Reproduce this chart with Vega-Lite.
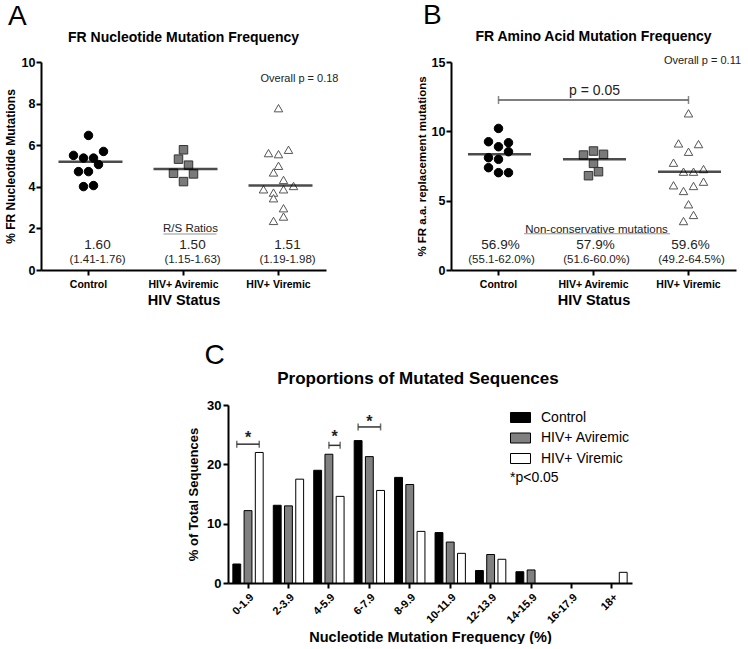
{
  "$schema": "https://vega.github.io/schema/vega-lite/v6.json",
  "background": "white",
  "padding": {"left": 4, "top": 2, "right": 0, "bottom": 0},
  "config": {
    "font": "Liberation Sans",
    "view": {"stroke": null},
    "axis": {"domainColor": "#000", "domainWidth": 2, "tickColor": "#000", "tickWidth": 2, "tickSize": 5, "labelColor": "#000", "titleColor": "#000", "labelFontWeight": "bold", "titleFontWeight": "bold", "grid": false, "labelFont": "Liberation Sans", "titleFont": "Liberation Sans"},
    "title": {"color": "#000", "font": "Liberation Sans"},
    "text": {"font": "Liberation Sans"},
    "legend": {"labelFont": "Liberation Sans", "titleFont": "Liberation Sans"}
  },
  "resolve": {"scale": {"color": "independent"}, "legend": {"color": "independent"}},
  "datasets": {
    "a_pts": [
      {"group": "Control", "value": 6.47, "slot": 0},
      {"group": "Control", "value": 5.51, "slot": -3},
      {"group": "Control", "value": 5.38, "slot": -1},
      {"group": "Control", "value": 5.38, "slot": 1},
      {"group": "Control", "value": 5.70, "slot": 3},
      {"group": "Control", "value": 5.07, "slot": 2},
      {"group": "Control", "value": 4.73, "slot": -2},
      {"group": "Control", "value": 4.73, "slot": 0},
      {"group": "Control", "value": 4.01, "slot": -1},
      {"group": "Control", "value": 4.06, "slot": 1},
      {"group": "HIV+ Aviremic", "value": 5.78, "slot": 0},
      {"group": "HIV+ Aviremic", "value": 5.33, "slot": -1},
      {"group": "HIV+ Aviremic", "value": 5.04, "slot": 1},
      {"group": "HIV+ Aviremic", "value": 4.65, "slot": -2},
      {"group": "HIV+ Aviremic", "value": 4.62, "slot": 2},
      {"group": "HIV+ Aviremic", "value": 4.25, "slot": 0},
      {"group": "HIV+ Viremic", "value": 7.78, "slot": 0},
      {"group": "HIV+ Viremic", "value": 5.62, "slot": -2},
      {"group": "HIV+ Viremic", "value": 5.57, "slot": 0},
      {"group": "HIV+ Viremic", "value": 5.78, "slot": 2},
      {"group": "HIV+ Viremic", "value": 5.01, "slot": 0},
      {"group": "HIV+ Viremic", "value": 4.69, "slot": -1},
      {"group": "HIV+ Viremic", "value": 4.33, "slot": 1},
      {"group": "HIV+ Viremic", "value": 3.88, "slot": -3},
      {"group": "HIV+ Viremic", "value": 3.72, "slot": -1},
      {"group": "HIV+ Viremic", "value": 3.88, "slot": 1},
      {"group": "HIV+ Viremic", "value": 4.04, "slot": 3},
      {"group": "HIV+ Viremic", "value": 3.45, "slot": -1},
      {"group": "HIV+ Viremic", "value": 2.97, "slot": 1},
      {"group": "HIV+ Viremic", "value": 2.57, "slot": 1},
      {"group": "HIV+ Viremic", "value": 2.36, "slot": -1}
    ],
    "a_med": [
      {"group": "Control", "median": 5.20},
      {"group": "HIV+ Aviremic", "median": 4.85},
      {"group": "HIV+ Viremic", "median": 4.06}
    ],
    "a_lab": [
      {"group": "Control", "r": "1.60", "ci": "(1.41-1.76)"},
      {"group": "HIV+ Aviremic", "r": "1.50", "ci": "(1.15-1.63)"},
      {"group": "HIV+ Viremic", "r": "1.51", "ci": "(1.19-1.98)"}
    ],
    "b_pts": [
      {"group": "Control", "value": 10.21, "slot": 0},
      {"group": "Control", "value": 9.25, "slot": -2},
      {"group": "Control", "value": 9.18, "slot": 2},
      {"group": "Control", "value": 8.89, "slot": 0},
      {"group": "Control", "value": 8.53, "slot": 2},
      {"group": "Control", "value": 8.10, "slot": -2},
      {"group": "Control", "value": 7.98, "slot": 0},
      {"group": "Control", "value": 7.38, "slot": -2},
      {"group": "Control", "value": 7.02, "slot": 0},
      {"group": "Control", "value": 7.02, "slot": 2},
      {"group": "HIV+ Aviremic", "value": 8.58, "slot": 0},
      {"group": "HIV+ Aviremic", "value": 8.29, "slot": -2},
      {"group": "HIV+ Aviremic", "value": 8.34, "slot": 2},
      {"group": "HIV+ Aviremic", "value": 7.69, "slot": 0},
      {"group": "HIV+ Aviremic", "value": 7.09, "slot": 1},
      {"group": "HIV+ Aviremic", "value": 6.80, "slot": -1},
      {"group": "HIV+ Viremic", "value": 11.3, "slot": 0},
      {"group": "HIV+ Viremic", "value": 9.13, "slot": -2},
      {"group": "HIV+ Viremic", "value": 9.08, "slot": 2},
      {"group": "HIV+ Viremic", "value": 8.53, "slot": 0},
      {"group": "HIV+ Viremic", "value": 7.74, "slot": -3},
      {"group": "HIV+ Viremic", "value": 7.09, "slot": -1},
      {"group": "HIV+ Viremic", "value": 7.09, "slot": 1},
      {"group": "HIV+ Viremic", "value": 7.28, "slot": 3},
      {"group": "HIV+ Viremic", "value": 6.11, "slot": -3},
      {"group": "HIV+ Viremic", "value": 5.70, "slot": -1},
      {"group": "HIV+ Viremic", "value": 6.06, "slot": 1},
      {"group": "HIV+ Viremic", "value": 6.37, "slot": 3},
      {"group": "HIV+ Viremic", "value": 4.74, "slot": 0},
      {"group": "HIV+ Viremic", "value": 3.53, "slot": -1},
      {"group": "HIV+ Viremic", "value": 3.97, "slot": 1}
    ],
    "b_med": [
      {"group": "Control", "median": 8.34},
      {"group": "HIV+ Aviremic", "median": 7.98},
      {"group": "HIV+ Viremic", "median": 7.09}
    ],
    "b_lab": [
      {"group": "Control", "r": "56.9%", "ci": "(55.1-62.0%)"},
      {"group": "HIV+ Aviremic", "r": "57.9%", "ci": "(51.6-60.0%)"},
      {"group": "HIV+ Viremic", "r": "59.6%", "ci": "(49.2-64.5%)"}
    ],
    "c_bars": [
      {"bin": "0-1.9", "grp": "Control", "pct": 3.2},
      {"bin": "0-1.9", "grp": "HIV+ Aviremic", "pct": 12.2},
      {"bin": "0-1.9", "grp": "HIV+ Viremic", "pct": 22.0},
      {"bin": "2-3.9", "grp": "Control", "pct": 13.1},
      {"bin": "2-3.9", "grp": "HIV+ Aviremic", "pct": 13.0},
      {"bin": "2-3.9", "grp": "HIV+ Viremic", "pct": 17.5},
      {"bin": "4-5.9", "grp": "Control", "pct": 19.0},
      {"bin": "4-5.9", "grp": "HIV+ Aviremic", "pct": 21.7},
      {"bin": "4-5.9", "grp": "HIV+ Viremic", "pct": 14.6},
      {"bin": "6-7.9", "grp": "Control", "pct": 24.0},
      {"bin": "6-7.9", "grp": "HIV+ Aviremic", "pct": 21.3},
      {"bin": "6-7.9", "grp": "HIV+ Viremic", "pct": 15.6},
      {"bin": "8-9.9", "grp": "Control", "pct": 17.8},
      {"bin": "8-9.9", "grp": "HIV+ Aviremic", "pct": 16.6},
      {"bin": "8-9.9", "grp": "HIV+ Viremic", "pct": 8.7},
      {"bin": "10-11.9", "grp": "Control", "pct": 8.5},
      {"bin": "10-11.9", "grp": "HIV+ Aviremic", "pct": 6.9},
      {"bin": "10-11.9", "grp": "HIV+ Viremic", "pct": 5.0},
      {"bin": "12-13.9", "grp": "Control", "pct": 2.1},
      {"bin": "12-13.9", "grp": "HIV+ Aviremic", "pct": 4.8},
      {"bin": "12-13.9", "grp": "HIV+ Viremic", "pct": 4.0},
      {"bin": "14-15.9", "grp": "Control", "pct": 1.9},
      {"bin": "14-15.9", "grp": "HIV+ Aviremic", "pct": 2.2},
      {"bin": "14-15.9", "grp": "HIV+ Viremic", "pct": 0},
      {"bin": "16-17.9", "grp": "Control", "pct": 0},
      {"bin": "16-17.9", "grp": "HIV+ Aviremic", "pct": 0},
      {"bin": "16-17.9", "grp": "HIV+ Viremic", "pct": 0},
      {"bin": "18+", "grp": "Control", "pct": 0},
      {"bin": "18+", "grp": "HIV+ Aviremic", "pct": 0},
      {"bin": "18+", "grp": "HIV+ Viremic", "pct": 1.8}
    ]
  },
  "spacing": 35,
  "vconcat": [
    {
      "spacing": 77,
      "hconcat": [
        {
          "title": {"text": "A", "anchor": "start", "fontSize": 28, "fontWeight": "normal", "dx": 4, "offset": 0},
          "vconcat": [
            {
              "title": {"text": "FR Nucleotide Mutation Frequency", "fontSize": 14, "fontWeight": "bold", "frame": "group", "offset": 11},
              "width": 285,
              "height": 208,
              "layer": [
                {
                  "data": {"name": "a_pts"},
                  "mark": {"type": "point", "filled": true, "size": 72, "strokeWidth": 1, "opacity": 1},
                  "encoding": {
                    "x": {"field": "group", "type": "nominal", "scale": {"paddingInner": 0, "paddingOuter": 0}, "axis": {"title": "HIV Status", "labelAngle": 0, "labelFontSize": 10.5, "titleFontSize": 14.5, "labelPadding": 4, "titlePadding": 4}},
                    "xOffset": {"field": "slot", "type": "quantitative", "scale": {"domain": [-9.5, 9.5]}},
                    "y": {"field": "value", "type": "quantitative", "scale": {"domain": [0, 10], "nice": false}, "axis": {"values": [0, 2, 4, 6, 8, 10], "title": "% FR Nucleotide Mutations", "labelFontSize": 12.5, "titleFontSize": 12, "titlePadding": 4, "labelPadding": 1}},
                    "shape": {"field": "group", "type": "nominal", "scale": {"domain": ["Control", "HIV+ Aviremic", "HIV+ Viremic"], "range": ["circle", "square", "triangle-up"]}, "legend": null},
                    "fill": {"field": "group", "type": "nominal", "scale": {"domain": ["Control", "HIV+ Aviremic", "HIV+ Viremic"], "range": ["#000000", "#7a7a7a", "#ffffff"]}, "legend": null},
                    "stroke": {"field": "group", "type": "nominal", "scale": {"domain": ["Control", "HIV+ Aviremic", "HIV+ Viremic"], "range": ["#000000", "#333333", "#555555"]}, "legend": null}
                  }
                },
                {
                  "data": {"name": "a_med"},
                  "mark": {"type": "tick", "orient": "horizontal", "size": 64, "thickness": 2.5, "color": "#000", "xOffset": 2},
                  "encoding": {
                    "x": {"field": "group", "type": "nominal"},
                    "y": {"field": "median", "type": "quantitative"}
                  }
                },
                {
                  "data": {"name": "a_lab"},
                  "mark": {"type": "text", "fontSize": 13.5, "dx": 9, "color": "#222"},
                  "encoding": {"x": {"field": "group", "type": "nominal"}, "y": {"datum": 1.2}, "text": {"field": "r"}}
                },
                {
                  "data": {"name": "a_lab"},
                  "mark": {"type": "text", "fontSize": 11.5, "dx": 9, "color": "#222"},
                  "encoding": {"x": {"field": "group", "type": "nominal"}, "y": {"datum": 0.48}, "text": {"field": "ci"}}
                },
                {
                  "data": {"values": [{"t": "Overall p = 0.18"}]},
                  "mark": {"type": "text", "fontSize": 11, "dx": 21, "color": "#222"},
                  "encoding": {"x": {"datum": "HIV+ Viremic"}, "y": {"datum": 9.2}, "text": {"field": "t"}}
                },
                {
                  "data": {"values": [{"t": "R/S Ratios"}]},
                  "mark": {"type": "text", "fontSize": 11.5, "dx": 7, "color": "#222"},
                  "encoding": {"x": {"datum": "HIV+ Aviremic"}, "y": {"datum": 1.97}, "text": {"field": "t"}}
                },
                {
                  "data": {"values": [{"t": "R/S Ratios"}]},
                  "mark": {"type": "tick", "orient": "horizontal", "size": 53, "thickness": 1, "color": "#666", "xOffset": 6.5},
                  "encoding": {"x": {"datum": "HIV+ Aviremic"}, "y": {"datum": 1.73}}
                }
              ]
            }
          ]
        },
        {
          "title": {"text": "B", "anchor": "start", "fontSize": 28, "fontWeight": "normal", "dx": 7, "offset": 0},
          "vconcat": [
            {
              "title": {"text": "FR Amino Acid Mutation Frequency", "fontSize": 14, "fontWeight": "bold", "frame": "group", "offset": 11},
              "width": 285,
              "height": 208,
              "layer": [
                {
                  "data": {"name": "b_pts"},
                  "mark": {"type": "point", "filled": true, "size": 72, "strokeWidth": 1, "opacity": 1},
                  "encoding": {
                    "x": {"field": "group", "type": "nominal", "scale": {"paddingInner": 0, "paddingOuter": 0}, "axis": {"title": "HIV Status", "labelAngle": 0, "labelFontSize": 10.5, "titleFontSize": 14.5, "labelPadding": 4, "titlePadding": 4}},
                    "xOffset": {"field": "slot", "type": "quantitative", "scale": {"domain": [-9.5, 9.5]}},
                    "y": {"field": "value", "type": "quantitative", "scale": {"domain": [0, 15], "nice": false}, "axis": {"values": [0, 5, 10, 15], "title": "% FR a.a. replacement mutations", "labelFontSize": 12.5, "titleFontSize": 11.5, "titlePadding": 4, "labelPadding": 1}},
                    "shape": {"field": "group", "type": "nominal", "scale": {"domain": ["Control", "HIV+ Aviremic", "HIV+ Viremic"], "range": ["circle", "square", "triangle-up"]}, "legend": null},
                    "fill": {"field": "group", "type": "nominal", "scale": {"domain": ["Control", "HIV+ Aviremic", "HIV+ Viremic"], "range": ["#000000", "#7a7a7a", "#ffffff"]}, "legend": null},
                    "stroke": {"field": "group", "type": "nominal", "scale": {"domain": ["Control", "HIV+ Aviremic", "HIV+ Viremic"], "range": ["#000000", "#333333", "#555555"]}, "legend": null}
                  }
                },
                {
                  "data": {"name": "b_med"},
                  "mark": {"type": "tick", "orient": "horizontal", "size": 63, "thickness": 2.5, "color": "#000", "xOffset": 1},
                  "encoding": {
                    "x": {"field": "group", "type": "nominal"},
                    "y": {"field": "median", "type": "quantitative"}
                  }
                },
                {
                  "data": {"values": [{"group": "Control"}, {"group": "HIV+ Viremic"}]},
                  "encoding": {"x": {"field": "group", "type": "nominal"}, "y": {"datum": 12.26}},
                  "layer": [
                    {"mark": {"type": "line", "color": "#555", "strokeWidth": 1.5}},
                    {"mark": {"type": "tick", "orient": "vertical", "size": 8, "thickness": 1.5, "color": "#555"}}
                  ]
                },
                {
                  "data": {"values": [{"t": "p = 0.05"}]},
                  "mark": {"type": "text", "fontSize": 14, "dx": 1, "color": "#222"},
                  "encoding": {"x": {"datum": "HIV+ Aviremic"}, "y": {"datum": 12.9}, "text": {"field": "t"}}
                },
                {
                  "data": {"name": "b_lab"},
                  "mark": {"type": "text", "fontSize": 13.5, "dx": 2, "color": "#222"},
                  "encoding": {"x": {"field": "group", "type": "nominal"}, "y": {"datum": 1.8}, "text": {"field": "r"}}
                },
                {
                  "data": {"name": "b_lab"},
                  "mark": {"type": "text", "fontSize": 11.5, "dx": 3, "color": "#222"},
                  "encoding": {"x": {"field": "group", "type": "nominal"}, "y": {"datum": 0.72}, "text": {"field": "ci"}}
                },
                {
                  "data": {"values": [{"t": "Overall p = 0.11"}]},
                  "mark": {"type": "text", "fontSize": 11, "dx": 14, "color": "#222"},
                  "encoding": {"x": {"datum": "HIV+ Viremic"}, "y": {"datum": 15.07}, "text": {"field": "t"}}
                },
                {
                  "data": {"values": [{"t": "Non-conservative mutations"}]},
                  "mark": {"type": "text", "fontSize": 11.5, "dx": 3, "color": "#222"},
                  "encoding": {"x": {"datum": "HIV+ Aviremic"}, "y": {"datum": 2.88}, "text": {"field": "t"}}
                },
                {
                  "data": {"values": [{"t": "Non-conservative mutations"}]},
                  "mark": {"type": "tick", "orient": "horizontal", "size": 146, "thickness": 1, "color": "#666", "xOffset": 3.5},
                  "encoding": {"x": {"datum": "HIV+ Aviremic"}, "y": {"datum": 2.62}}
                }
              ]
            }
          ]
        }
      ]
    },
    {
      "spacing": 0,
      "resolve": {"scale": {"color": "independent"}, "legend": {"color": "independent"}},
      "hconcat": [
        {
          "width": 146,
          "height": 10,
          "data": {"values": [{"k": 1}]},
          "mark": {"type": "text", "text": " "}
        },
        {
          "title": {"text": "C", "anchor": "start", "fontSize": 28, "fontWeight": "normal", "dx": 17, "offset": 0},
          "resolve": {"scale": {"color": "independent"}, "legend": {"color": "independent"}},
          "vconcat": [
            {
              "title": {"text": "Proportions of Mutated Sequences", "fontSize": 17, "fontWeight": "bold", "frame": "group", "dx": -12, "offset": 11},
              "width": 404,
              "height": 178,
              "layer": [
                {
                  "data": {"name": "c_bars"},
                  "mark": {"type": "bar", "stroke": "#000", "strokeWidth": 1},
                  "encoding": {
                    "x": {"field": "bin", "type": "nominal", "scale": {"domain": ["0-1.9", "2-3.9", "4-5.9", "6-7.9", "8-9.9", "10-11.9", "12-13.9", "14-15.9", "16-17.9", "18+"], "paddingInner": 0.25, "paddingOuter": 0.12}, "axis": {"title": "Nucleotide Mutation Frequency (%)", "labelAngle": -45, "labelFontSize": 11, "titleFontSize": 14.5, "labelPadding": 3, "titlePadding": 5}},
                    "xOffset": {"field": "grp", "type": "nominal", "scale": {"domain": ["Control", "HIV+ Aviremic", "HIV+ Viremic"], "paddingInner": 0.3, "paddingOuter": 0}},
                    "y": {"field": "pct", "type": "quantitative", "scale": {"domain": [0, 30], "nice": false}, "axis": {"values": [0, 10, 20, 30], "title": "% of Total Sequences", "labelFontSize": 13, "titleFontSize": 13, "titlePadding": 6, "labelPadding": 2}},
                    "strokeOpacity": {"condition": {"test": "datum.pct == 0", "value": 0}, "value": 1},
                    "color": {"field": "grp", "type": "nominal", "scale": {"domain": ["Control", "HIV+ Aviremic", "HIV+ Viremic"], "range": ["#000000", "#808080", "#ffffff"]},
                      "legend": {"title": "\u00a0\u00a0\u00a0*p<0.05", "titleOrient": "bottom", "titleFontSize": 14, "titleFontWeight": "normal", "titleColor": "#000", "titlePadding": 5, "orient": "none", "legendX": 282, "legendY": 2, "padding": 0, "labelFontSize": 14, "labelColor": "#000", "labelOffset": 10, "symbolType": "M-1,-0.5H1V0.5H-1Z", "symbolSize": 400, "symbolStrokeColor": "#000", "symbolStrokeWidth": 1, "rowPadding": 2.5}}
                  }
                },
                {
                  "data": {"values": [{"bin": "0-1.9", "grp": "Control"}, {"bin": "0-1.9", "grp": "HIV+ Viremic"}]},
                  "encoding": {"x": {"field": "bin", "type": "nominal"}, "xOffset": {"field": "grp", "type": "nominal"}, "y": {"datum": 23.4}},
                  "layer": [
                    {"mark": {"type": "line", "color": "#333", "strokeWidth": 1.5}},
                    {"mark": {"type": "tick", "orient": "vertical", "size": 7, "thickness": 1.5, "color": "#333"}}
                  ]
                },
                {
                  "data": {"values": [{"bin": "4-5.9", "grp": "HIV+ Aviremic"}, {"bin": "4-5.9", "grp": "HIV+ Viremic"}]},
                  "encoding": {"x": {"field": "bin", "type": "nominal"}, "xOffset": {"field": "grp", "type": "nominal"}, "y": {"datum": 23.2}},
                  "layer": [
                    {"mark": {"type": "line", "color": "#333", "strokeWidth": 1.5}},
                    {"mark": {"type": "tick", "orient": "vertical", "size": 7, "thickness": 1.5, "color": "#333"}}
                  ]
                },
                {
                  "data": {"values": [{"bin": "6-7.9", "grp": "Control"}, {"bin": "6-7.9", "grp": "HIV+ Viremic"}]},
                  "encoding": {"x": {"field": "bin", "type": "nominal"}, "xOffset": {"field": "grp", "type": "nominal"}, "y": {"datum": 26.3}},
                  "layer": [
                    {"mark": {"type": "line", "color": "#333", "strokeWidth": 1.5}},
                    {"mark": {"type": "tick", "orient": "vertical", "size": 7, "thickness": 1.5, "color": "#333"}}
                  ]
                },
                {
                  "data": {"values": [{"bin": "0-1.9", "s": "*"}]},
                  "mark": {"type": "text", "fontSize": 16, "fontWeight": "bold", "color": "#222", "baseline": "middle", "dy": 4},
                  "encoding": {"x": {"field": "bin", "type": "nominal"}, "y": {"datum": 25.1}, "text": {"field": "s"}}
                },
                {
                  "data": {"values": [{"bin": "4-5.9", "s": "*"}]},
                  "mark": {"type": "text", "fontSize": 16, "fontWeight": "bold", "color": "#222", "baseline": "middle", "dy": 4, "dx": 5.6},
                  "encoding": {"x": {"field": "bin", "type": "nominal"}, "y": {"datum": 25.2}, "text": {"field": "s"}}
                },
                {
                  "data": {"values": [{"bin": "6-7.9", "s": "*"}]},
                  "mark": {"type": "text", "fontSize": 16, "fontWeight": "bold", "color": "#222", "baseline": "middle", "dy": 4},
                  "encoding": {"x": {"field": "bin", "type": "nominal"}, "y": {"datum": 27.8}, "text": {"field": "s"}}
                }
              ]
            }
          ]
        }
      ]
    }
  ]
}
